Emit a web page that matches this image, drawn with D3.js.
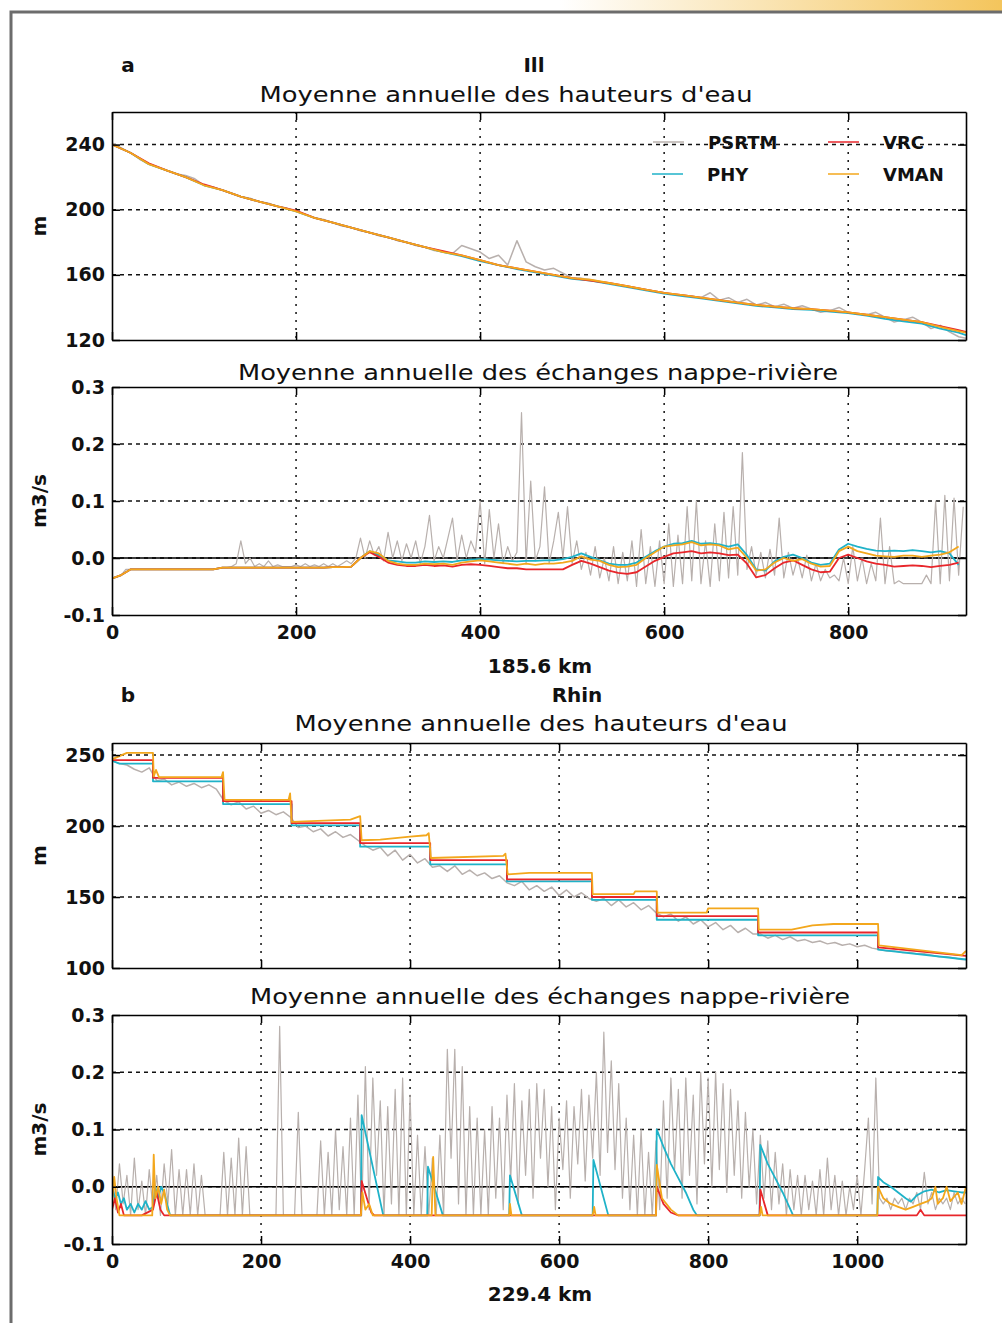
<!DOCTYPE html>
<html>
<head>
<meta charset="utf-8">
<script src="https://cdn.jsdelivr.net/npm/d3@7"></script>
<style>
  body { margin: 0; background: #fff; }
  svg text { font-family: "DejaVu Sans", sans-serif; fill: #111; }
</style>
</head>
<body>
<svg id="fig" width="1002" height="1323"></svg>
<script>
// ---------------- data ----------------
const seriesNames = ["PSRTM", "PHY", "VRC", "VMAN"];

// Ill : water heights (m). models every 20, PSRTM every 10 ; last point at 928
const illH_x = d3.range(0, 921, 20).concat([928]);
const illH_VMAN = [240,235,228,224,220,215,212,208,205,202,
                   199,195,192,189,186,183,180,177,174,172,
                   169,166,164,162,160,158,157,155,153,151,
                   149,147.5,146,144.5,143,141.5,140.5,139.5,139,138,
                   137,135.5,134,132.5,131,128,125.5,124.5];
const illH_VRC  = [240,235,228.5,224,220,215.5,212,208,205,202,
                   199.5,195,192,189,186,183,180,177,174.5,172,
                   169,166,164,162,160,158,156.5,155,153,151,
                   149,147.5,146,144.5,143,141.5,140.5,139.5,139,138,
                   137,135.5,134,132.5,131,128.5,126,125];
const illH_PHY  = [240,235,228,224,220,215,212,208,205,202,
                   199,195,192,189,186,183,180,177,174,171.5,
                   168.5,166,163.5,161.5,159.5,157.5,156.5,154.5,152.5,150.5,
                   148.5,147,145.5,144,142.5,141,140,139,138.5,137.5,
                   136.5,135,133,131.5,130,127,124.5,123];
const illH_px = d3.range(0, 921, 10).concat([928]);
const illH_PSRTM = [241,238,235,231,228,226,224,222,221,219,
                    215,214,212,210,208,207,205,204,202,201,
                    199,197,195,194,192,190,189,187,186,184,
                    183,181,180,178,177,175,174,173,178,176,
                    174,170,172,166,181,168,165,163,164,161,
                    158,158,157,156,155,154,153,152,151,150,
                    149,148,147.5,147,146,149,144.5,146,143,145,
                    141.5,143,140.5,142,139.5,141,139,137,138,140,
                    137,136,135.5,137,134,131,132.5,134,131,127,
                    129,125,122,121];

// Ill : river-aquifer exchanges (m3/s). models every 10, PSRTM every 5
const illQ_x = d3.range(0, 921, 10);
const illQ_start = [-0.036,-0.03,-0.02,-0.02,-0.02,-0.02,-0.02,-0.02,-0.02,-0.02,
                    -0.02,-0.02,-0.017,-0.017,-0.017,-0.017,-0.017,-0.017,-0.017,-0.017];
const illQ_VMAN = illQ_start.concat([
  -0.017,-0.017,-0.017,-0.017,-0.016,-0.016,-0.015,0.0,0.012,0.008,
  -0.005,-0.01,-0.012,-0.012,-0.01,-0.011,-0.01,-0.012,-0.008,-0.006,
  -0.004,-0.006,-0.008,-0.01,-0.012,-0.01,-0.012,-0.01,-0.01,-0.008,
  -0.005,0.003,-0.003,-0.005,-0.012,-0.016,-0.015,-0.012,0.0,0.01,
  0.02,0.022,0.024,0.028,0.022,0.024,0.022,0.015,0.018,0.0,
  -0.022,-0.02,-0.008,0.0,-0.005,-0.002,-0.01,-0.015,-0.014,0.012,
  0.02,0.012,0.008,0.004,0.003,0.002,0.004,0.004,0.002,0.004,
  0.006,0.01,0.02]);
const illQ_PHY = illQ_start.concat([
  -0.017,-0.017,-0.017,-0.017,-0.016,-0.016,-0.015,0.0,0.012,0.005,
  -0.004,-0.006,-0.008,-0.008,-0.006,-0.007,-0.006,-0.007,-0.004,-0.003,
  -0.002,-0.003,-0.004,-0.005,-0.006,-0.005,-0.005,-0.004,-0.004,-0.002,
  0.002,0.008,0.002,-0.004,-0.01,-0.012,-0.012,-0.008,0.002,0.012,
  0.02,0.025,0.026,0.03,0.025,0.026,0.024,0.02,0.024,0.005,
  -0.02,-0.022,-0.006,0.002,0.006,0.0,-0.008,-0.012,-0.01,0.015,
  0.025,0.02,0.016,0.013,0.012,0.013,0.012,0.014,0.012,0.01,
  0.012,0.008,-0.012]);
const illQ_VRC = illQ_start.concat([
  -0.017,-0.017,-0.017,-0.017,-0.016,-0.016,-0.015,0.0,0.01,0.002,
  -0.008,-0.012,-0.014,-0.014,-0.012,-0.014,-0.013,-0.015,-0.012,-0.011,
  -0.012,-0.014,-0.016,-0.018,-0.018,-0.02,-0.02,-0.02,-0.02,-0.02,
  -0.012,-0.005,-0.01,-0.016,-0.022,-0.026,-0.028,-0.025,-0.015,-0.005,
  0.002,0.008,0.01,0.012,0.008,0.01,0.008,0.005,0.006,-0.01,
  -0.034,-0.03,-0.018,-0.008,-0.004,-0.012,-0.02,-0.025,-0.024,0.0,
  0.006,0.0,-0.006,-0.01,-0.012,-0.015,-0.014,-0.013,-0.014,-0.016,
  -0.014,-0.012,-0.008]);
const illQ_px = d3.range(0, 926, 5);
const illQ_PSRTM = [
  -0.036,-0.034,-0.03,-0.02,-0.02,-0.02,-0.02,-0.02,-0.02,-0.02,-0.02,-0.02,-0.02,-0.02,-0.02,-0.02,-0.02,-0.02,-0.02,-0.02,
  -0.02,-0.02,-0.02,-0.018,-0.017,-0.017,-0.015,-0.01,0.03,-0.01,0.0,-0.015,-0.01,-0.015,-0.005,-0.015,-0.012,-0.015,-0.015,-0.015,
  -0.012,-0.015,-0.01,-0.015,-0.012,-0.015,-0.01,-0.015,-0.01,-0.015,-0.01,-0.005,-0.01,0.0,0.035,0.0,0.03,0.005,0.02,-0.005,
  0.045,0.0,0.03,-0.005,0.025,0.0,0.03,-0.01,0.02,0.075,-0.005,0.02,0.0,0.035,0.07,-0.005,0.04,0.0,0.03,0.01,
  0.1,-0.01,0.085,0.0,0.06,-0.01,0.02,-0.005,0.01,0.255,-0.01,0.135,-0.005,0.02,0.125,-0.01,0.03,0.08,0.0,0.09,
  -0.01,0.03,-0.02,0.01,-0.03,0.02,-0.035,0.0,-0.04,0.02,-0.045,0.01,-0.04,0.03,-0.05,0.05,-0.045,0.02,-0.05,0.03,
  -0.045,0.06,-0.05,0.04,-0.045,0.09,-0.04,0.1,-0.045,0.03,-0.05,0.06,-0.04,0.08,-0.035,0.09,-0.03,0.185,-0.02,0.02,
  -0.03,0.01,-0.035,0.015,-0.03,0.07,-0.035,0.01,-0.03,0.0,-0.035,0.005,-0.04,-0.01,-0.04,-0.02,-0.035,-0.03,-0.04,0.0,
  -0.045,0.02,-0.04,0.0,-0.045,-0.01,-0.04,0.07,-0.045,0.02,-0.045,-0.04,-0.045,-0.045,-0.045,-0.045,-0.045,-0.03,-0.045,0.1,
  -0.045,0.11,-0.04,0.105,-0.03,0.09];

// Rhin : water heights (m). models given as [km, m] break points
const rhinH_VRC = [[0,246.5],[55,246.5],[55,234],[149,234],[149,217.5],[241,217.5],[241,202],[333,202],
  [333,188],[427,188],[427,176],[530,176],[530,162.5],[644,162.5],[644,150],[731,150],[731,136.5],
  [867,136.5],[867,125],[1028,125],[1028,114.5],[1146,108.5]];
const rhinH_PHY = [[0,246],[10,244],[55,244],[55,231.5],[149,231.5],[149,215.5],[241,215.5],[241,200.5],
  [333,200.5],[333,185.5],[427,185.5],[427,173],[530,173],[530,161],[644,161],[644,148],[731,148],
  [731,134],[867,134],[867,123],[1028,123],[1028,113],[1146,106]];
const rhinH_VMAN = [[0,247],[20,251.5],[55,251.5],[56,235],[59,239.5],[63,234.5],[147,234.5],[149,238],
  [151,218.5],[237,218.5],[239,223],[241,203],[320,204.5],[333,207],[335,190],[360,190.5],[400,192.5],
  [422,193.5],[425,195],[428,177.5],[525,179],[528,180.5],[531,166],[560,167],[644,167],[645,152],
  [700,152],[702,154],[731,154],[732,139],[798,139],[800,142],[867,142],[868,127],[912,127],[940,130],
  [968,131],[1028,131],[1029,116],[1140,109],[1146,112]];
const rhinH_px = d3.range(0, 1141, 10).concat([1146]);
const rhinH_PSRTM = [246,244,243,240,238,241,232,233,229,231,
                     228,230,227,229,226,218,215,217,212,214,
                     209,211,208,210,206,199,200,196,198,193,
                     196,192,194,190,186,183,185,179,183,176,
                     180,174,177,171,172,168,172,166,169,165,
                     167,163,165,160,158,161,155,158,154,157,
                     151,155,150,153,149,147,149,144,148,143,
                     146,141,144,139,136,138,133,136,131,134,
                     129,132,127,130,125,128,124,124,121,123,
                     120,122,119,120,118,119,117,118,116,117,
                     115,116,114,113,112,112,111,111,110,110,
                     109,108,108,107,106,106];

// Rhin : exchanges (m3/s)
const rhinQ_PHY = [[0,0.0],[4,-0.02],[8,-0.01],[12,-0.03],[16,-0.02],[20,-0.04],[25,-0.03],[30,-0.045],
  [35,-0.03],[40,-0.04],[45,-0.025],[50,-0.04],[55,-0.035],[58,0.0],[62,-0.02],[66,0.0],[70,-0.01],
  [74,-0.03],[78,-0.05],[334,-0.05],[335,0.125],[364,-0.05],[423,-0.05],[424,0.035],[444,-0.05],
  [533,-0.05],[534,0.02],[550,-0.05],[645,-0.05],[646,0.047],[666,-0.05],[730,-0.05],[731,0.1],
  [740,0.07],[750,0.04],[760,0.015],[770,-0.01],[780,-0.04],[785,-0.05],[869,-0.05],[870,0.073],
  [880,0.04],[890,0.015],[900,-0.01],[914,-0.05],[1027,-0.05],[1028,0.017],[1035,0.008],[1045,0.0],
  [1055,-0.01],[1065,-0.02],[1072,-0.026],[1080,-0.015],[1090,-0.008],[1100,-0.005],[1110,-0.01],
  [1120,-0.006],[1130,-0.008],[1140,-0.01],[1146,-0.01]];
const rhinQ_VRC = [[0,-0.04],[4,-0.02],[8,-0.045],[12,-0.03],[16,-0.05],[40,-0.05],[55,-0.04],[60,-0.01],
  [65,-0.04],[70,-0.05],[334,-0.05],[335,0.01],[342,-0.02],[348,-0.045],[352,-0.05],[730,-0.05],
  [731,0.0],[740,-0.03],[750,-0.045],[760,-0.05],[869,-0.05],[870,-0.005],[880,-0.05],[1080,-0.05],
  [1085,-0.04],[1090,-0.05],[1146,-0.05]];
const rhinQ_VMAN = [[0,-0.03],[3,0.017],[6,-0.02],[10,-0.05],[54,-0.05],[56,0.056],[58,-0.02],[62,0.0],
  [66,-0.03],[70,-0.005],[74,-0.04],[78,-0.05],[334,-0.05],[336,-0.01],[340,-0.04],[345,-0.03],
  [350,-0.05],[429,-0.05],[431,0.052],[434,-0.05],[533,-0.05],[534,-0.03],[536,-0.05],[645,-0.05],
  [647,-0.035],[649,-0.05],[730,-0.05],[731,0.038],[738,-0.02],[750,-0.04],[760,-0.05],[869,-0.05],
  [871,-0.035],[873,-0.05],[1027,-0.05],[1028,0.0],[1035,-0.02],[1045,-0.03],[1055,-0.035],
  [1065,-0.04],[1075,-0.035],[1085,-0.03],[1095,-0.025],[1100,-0.02],[1105,0.0],[1108,-0.03],
  [1115,-0.02],[1120,0.0],[1125,-0.025],[1135,-0.01],[1140,-0.03],[1146,0.0]];
const rhinQ_px = d3.range(0, 1146, 5);
const rhinQ_PSRTM = [
  0.03,-0.04,0.04,-0.03,0.02,-0.05,0.05,-0.04,0.01,-0.05,0.03,-0.04,0.02,-0.05,0.04,-0.03,0.065,-0.05,0.03,-0.05,
  0.03,-0.05,0.04,-0.05,0.02,-0.05,-0.05,-0.05,-0.05,-0.05,0.06,-0.05,0.05,-0.05,0.085,-0.05,0.07,-0.05,-0.05,-0.05,
  -0.05,-0.05,-0.05,-0.05,-0.05,0.28,-0.05,-0.05,-0.05,-0.05,0.13,-0.05,-0.05,-0.05,-0.05,-0.05,0.08,-0.05,0.06,-0.05,
  0.1,-0.04,0.07,-0.05,0.12,-0.05,0.16,-0.05,0.21,-0.04,0.19,0.02,0.15,-0.05,0.14,-0.03,0.17,-0.05,0.19,-0.05,
  0.16,-0.05,0.09,-0.05,0.07,-0.05,0.05,-0.05,0.09,-0.05,0.24,0.05,0.24,-0.03,0.21,-0.05,0.14,-0.05,0.12,-0.05,
  0.1,-0.05,0.14,-0.02,0.12,-0.04,0.16,0.01,0.18,-0.03,0.15,0.02,0.17,-0.02,0.18,0.05,0.17,0.0,0.14,-0.04,
  0.12,0.03,0.15,-0.02,0.14,0.04,0.17,0.01,0.16,0.05,0.2,0.02,0.27,0.06,0.22,0.03,0.18,-0.02,0.12,-0.04,
  0.09,-0.05,0.1,-0.05,0.06,-0.05,0.08,-0.04,0.15,-0.02,0.19,0.03,0.17,-0.02,0.19,0.02,0.16,-0.03,0.2,0.04,
  0.19,0.0,0.2,0.03,0.18,-0.01,0.17,0.02,0.15,-0.02,0.13,0.0,0.1,-0.03,0.09,-0.02,0.08,-0.04,0.06,-0.03,
  0.04,-0.05,0.03,-0.04,0.02,-0.05,0.02,-0.04,0.01,-0.05,0.03,-0.05,0.05,-0.04,0.02,-0.05,0.01,-0.05,0.0,-0.04,
  0.02,-0.05,0.03,0.12,-0.03,0.19,-0.02,-0.03,-0.02,-0.04,-0.02,-0.03,-0.02,-0.04,-0.02,-0.03,-0.01,-0.04,0.025,-0.03,
  -0.01,-0.04,-0.02,-0.03,-0.02,-0.04,-0.01,-0.03,-0.02,-0.03];

const illXTicks = [0, 200, 400, 600, 800];
const rhinXTicks = [0, 200, 400, 600, 800, 1000];
const illHTicks = [120, 160, 200, 240];
const rhinHTicks = [100, 150, 200, 250];
const qTicks = [-0.1, 0.0, 0.1, 0.2, 0.3];

// ---------------- drawing ----------------
const colors = { PSRTM: "#b8b0ad", PHY: "#1fb2c8", VRC: "#e8262b", VMAN: "#f3a71c" };
const widths = { PSRTM: 1.2, PHY: 1.8, VRC: 1.8, VMAN: 1.8 };

let svg = d3.select("#fig");
let defs = svg.append("defs");

// outer frame with the yellow band at the top right
let grad = defs.append("linearGradient").attr("id", "band");
grad.append("stop").attr("offset", "0").attr("stop-color", "#ffffff");
grad.append("stop").attr("offset", "1").attr("stop-color", "#f4c55c");
svg.append("rect").attr("x", 560).attr("y", 0).attr("width", 442).attr("height", 11)
   .attr("fill", "url(#band)");
svg.append("path").attr("d", "M11,1323V12H1002")
   .attr("fill", "none").attr("stroke", "#6c6c6c").attr("stroke-width", 3);

let clipN = 0;

function drawPanel(p) {
  let x = d3.scaleLinear().domain([0, p.xmax]).range([112, 966]);
  let y = d3.scaleLinear().domain(p.ydom).range([p.bottom, p.top]);
  let g = svg.append("g");

  let cid = "clip" + (clipN++);
  defs.append("clipPath").attr("id", cid).append("rect")
      .attr("x", 112).attr("y", p.top).attr("width", 854).attr("height", p.bottom - p.top);

  // grid
  g.selectAll(".gx").data(p.xticks.filter(v => v > 0)).enter().append("line")
   .attr("x1", d => x(d)).attr("x2", d => x(d))
   .attr("y1", p.top).attr("y2", p.bottom)
   .attr("stroke", "#111").attr("stroke-width", 1.5).attr("stroke-dasharray", "2,6");
  g.selectAll(".gy").data(p.yticks.filter(v => v > p.ydom[0] + 1e-9 && v < p.ydom[1] - 1e-9)).enter().append("line")
   .attr("x1", 112).attr("x2", 966)
   .attr("y1", d => y(d)).attr("y2", d => y(d))
   .attr("stroke", "#111").attr("stroke-width", 1.5).attr("stroke-dasharray", "4,4");

  if (p.zero) {
    g.append("line").attr("x1", 112).attr("x2", 966).attr("y1", y(0)).attr("y2", y(0))
     .attr("stroke", "#000").attr("stroke-width", 1.5);
  }

  // series
  let sg = g.append("g").attr("clip-path", "url(#" + cid + ")");
  let line = d3.line().x(d => x(d[0])).y(d => y(d[1]));
  seriesNames.forEach(name => {
    sg.append("path")
      .datum(p.series[name])
      .attr("fill", "none")
      .attr("stroke", colors[name])
      .attr("stroke-width", name == "PSRTM" && !p.zero ? 1.5 : widths[name])
      .attr("stroke-linejoin", "round")
      .attr("d", line);
  });

  // axes, ticks pointing inward on all four sides
  let axes = [
    g.append("g").attr("transform", "translate(0," + p.bottom + ")")
     .call(d3.axisBottom(x).tickValues(p.xticks).tickSize(-8).tickSizeOuter(0).tickPadding(11)
           .tickFormat(p.xlabels ? d3.format("d") : "")),
    g.append("g").attr("transform", "translate(0," + p.top + ")")
     .call(d3.axisTop(x).tickValues(p.xticks).tickSize(-8).tickSizeOuter(0).tickFormat("")),
    g.append("g").attr("transform", "translate(112,0)")
     .call(d3.axisLeft(y).tickValues(p.yticks).tickSize(-8).tickSizeOuter(0).tickPadding(7)
           .tickFormat(p.yfmt)),
    g.append("g").attr("transform", "translate(966,0)")
     .call(d3.axisRight(y).tickValues(p.yticks).tickSize(-8).tickSizeOuter(0).tickFormat(""))
  ];
  axes.forEach(a => {
    a.attr("font-family", null).attr("font-size", null);
    a.select(".domain").attr("stroke", "#000").attr("stroke-width", 1.6);
    a.selectAll(".tick line").attr("stroke", "#000").attr("stroke-width", 1.5);
    a.selectAll(".tick text").attr("font-size", "19px").attr("font-weight", "bold").attr("fill", "#111");
  });

  // y label
  svg.append("text")
     .attr("transform", "translate(46," + ((p.top + p.bottom) / 2) + ") rotate(-90)")
     .attr("text-anchor", "middle")
     .attr("font-size", "20px").attr("font-weight", "bold")
     .text(p.ylabel);
}

function zip(xs, ys) { return d3.zip(xs, ys); }

drawPanel({
  top: 112, bottom: 340, xmax: 928, ydom: [120, 260],
  xticks: illXTicks, yticks: illHTicks, yfmt: d3.format("d"), ylabel: "m",
  series: { PSRTM: zip(illH_px, illH_PSRTM), PHY: zip(illH_x, illH_PHY),
            VRC: zip(illH_x, illH_VRC), VMAN: zip(illH_x, illH_VMAN) }
});
drawPanel({
  top: 387, bottom: 615, xmax: 928, ydom: [-0.1, 0.3], zero: true, xlabels: true,
  xticks: illXTicks, yticks: qTicks, yfmt: v => v.toFixed(1), ylabel: "m3/s",
  series: { PSRTM: zip(illQ_px, illQ_PSRTM), PHY: zip(illQ_x, illQ_PHY),
            VRC: zip(illQ_x, illQ_VRC), VMAN: zip(illQ_x, illQ_VMAN) }
});
drawPanel({
  top: 743, bottom: 968, xmax: 1146, ydom: [100, 258.5],
  xticks: rhinXTicks, yticks: rhinHTicks, yfmt: d3.format("d"), ylabel: "m",
  series: { PSRTM: zip(rhinH_px, rhinH_PSRTM), PHY: rhinH_PHY, VRC: rhinH_VRC, VMAN: rhinH_VMAN }
});
drawPanel({
  top: 1015, bottom: 1244, xmax: 1146, ydom: [-0.1, 0.3], zero: true, xlabels: true,
  xticks: rhinXTicks, yticks: qTicks, yfmt: v => v.toFixed(1), ylabel: "m3/s",
  series: { PSRTM: zip(rhinQ_px, rhinQ_PSRTM), PHY: rhinQ_PHY, VRC: rhinQ_VRC, VMAN: rhinQ_VMAN }
});

// titles and labels
function label(txt, x, y, size, bold, len) {
  let t = svg.append("text").attr("x", x).attr("y", y)
     .attr("text-anchor", "middle")
     .attr("font-size", size + "px")
     .attr("font-weight", bold ? "bold" : "normal")
     .text(txt);
  if (len) t.attr("textLength", len).attr("lengthAdjust", "spacingAndGlyphs");
}
label("a", 128, 72, 20, true);
label("Ill", 534, 72, 20, true);
label("Moyenne annuelle des hauteurs d'eau", 506, 102, 22, false, 493);
label("Moyenne annuelle des échanges nappe-rivière", 538, 380, 22, false, 600);
label("185.6 km", 540, 673, 20, true);
label("b", 128, 702, 20, true);
label("Rhin", 577, 702, 20, true);
label("Moyenne annuelle des hauteurs d'eau", 541, 731, 22, false, 493);
label("Moyenne annuelle des échanges nappe-rivière", 550, 1004, 22, false, 600);
label("229.4 km", 540, 1301, 20, true);

// legend (inside the first panel)
const legendItems = [
  { name: "PSRTM", x: 653, y: 142 }, { name: "VRC", x: 828, y: 142 },
  { name: "PHY", x: 652, y: 174 }, { name: "VMAN", x: 828, y: 174 }
];
let lg = svg.append("g");
legendItems.forEach(it => {
  lg.append("line").attr("x1", it.x).attr("x2", it.x + 31).attr("y1", it.y).attr("y2", it.y)
    .attr("stroke", colors[it.name]).attr("stroke-width", 1.5);
  lg.append("text").attr("x", it.x + 55).attr("y", it.y + 7)
    .attr("font-size", "18px").attr("font-weight", "bold").text(it.name);
});
</script>
</body>
</html>
